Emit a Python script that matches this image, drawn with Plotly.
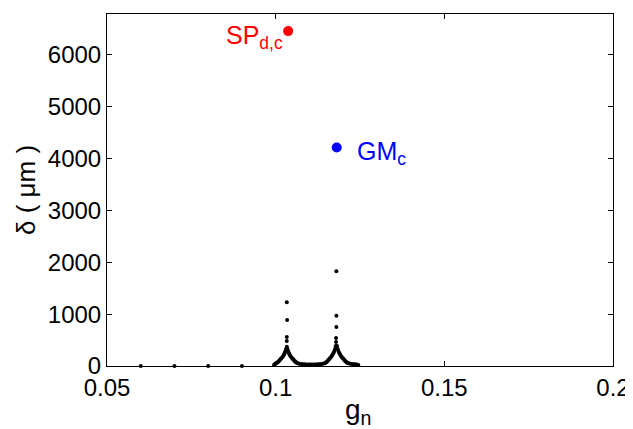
import plotly.graph_objects as go

# Black scattered solution points: g_n and delta (um)
g_points = [0.06, 0.07, 0.08, 0.09,
            0.0995, 0.0998, 0.1000, 0.1003, 0.1006, 0.1008, 0.1010, 0.1013, 0.1015, 0.1017,
            0.1020, 0.1023, 0.1025, 0.1027, 0.1029, 0.1031, 0.1033, 0.1033, 0.1033, 0.1034,
            0.1033, 0.1035, 0.1037, 0.1039, 0.1041, 0.1043, 0.1046, 0.1049, 0.1051, 0.1053,
            0.1056, 0.1058, 0.1060, 0.1063, 0.1066, 0.1070, 0.1075, 0.1080, 0.1085, 0.1090,
            0.1095, 0.1100, 0.1105, 0.1110, 0.1115, 0.1120, 0.1125, 0.1130, 0.1135, 0.1140,
            0.1144, 0.1147, 0.1150, 0.1152, 0.1154, 0.1157, 0.1159, 0.1161, 0.1164, 0.1167,
            0.1169, 0.1172, 0.1174, 0.1176, 0.1178, 0.1179, 0.1179, 0.1180, 0.1180, 0.1180,
            0.1182, 0.1184, 0.1186, 0.1188, 0.1191, 0.1193, 0.1196, 0.1199, 0.1201, 0.1203,
            0.1206, 0.1208, 0.1210, 0.1213, 0.1217, 0.1221, 0.1226, 0.1231, 0.1236, 0.1240,
            0.1245]
delta_points = [0, 0, 0, 0,
                20, 40, 48, 60, 72, 85, 98, 120, 135, 150,
                172, 200, 225, 255, 290, 330, 370, 480, 560, 885,
                1230, 330, 290, 255, 225, 200, 172, 150, 135, 120,
                98, 85, 72, 60, 52, 45, 40, 36, 33, 31,
                30, 29, 29, 29, 30, 31, 33, 36, 40, 45,
                52, 60, 72, 85, 98, 120, 135, 150, 172, 200,
                225, 255, 290, 330, 385, 461, 538, 750, 967, 1830,
                385, 330, 290, 255, 225, 200, 172, 150, 135, 120,
                98, 85, 72, 60, 52, 45, 40, 36, 32, 28,
                20]

# Highlighted points
sp_g, sp_delta = 0.1037, 6460
gm_g, gm_delta = 0.1181, 4215

x_ticks = [0.05, 0.1, 0.15, 0.2]
x_tick_labels = ["0.05", "0.1", "0.15", "0.2"]
y_ticks = [0, 1000, 2000, 3000, 4000, 5000, 6000]

FONT = "Liberation Sans"

fig = go.Figure()
fig.add_trace(go.Scatter(x=g_points, y=delta_points, mode="markers",
                         marker=dict(color="black", size=4), showlegend=False,
                         cliponaxis=False))
fig.add_trace(go.Scatter(x=[sp_g], y=[sp_delta], mode="markers",
                         marker=dict(color="#ff0000", size=10), showlegend=False))
fig.add_trace(go.Scatter(x=[gm_g], y=[gm_delta], mode="markers",
                         marker=dict(color="#0000ff", size=10), showlegend=False))

fig.add_annotation(x=sp_g, y=sp_delta, text="SP<sub>d,c</sub>", showarrow=False,
                   xanchor="right", yanchor="middle", xshift=-3, yshift=-6,
                   font=dict(family=FONT, size=25, color="#ff0000"))
fig.add_annotation(x=gm_g, y=gm_delta, text="GM<sub>c</sub>", showarrow=False,
                   xanchor="left", yanchor="middle", xshift=18, yshift=-6,
                   font=dict(family=FONT, size=25, color="#0000ff"))

# Axis titles placed as annotations
fig.add_annotation(xref="paper", yref="paper", x=0.497, y=-0.13, text="g<sub>n</sub>",
                   showarrow=False, xanchor="center", yanchor="middle",
                   font=dict(family=FONT, size=28, color="black"))
fig.add_annotation(xref="paper", yref="paper", x=-0.16, y=0.5, text="δ ( μm )",
                   showarrow=False, xanchor="center", yanchor="middle", textangle=-90,
                   font=dict(family=FONT, size=26, color="black"))

axis_common = dict(showline=True, linecolor="black", linewidth=1, mirror="ticks",
                   ticks="inside", ticklen=5, tickcolor="black", showgrid=False,
                   zeroline=False, automargin=False,
                   tickfont=dict(family=FONT, size=24, color="black"))

fig.update_xaxes(range=[0.05, 0.2], tickvals=x_ticks, ticktext=x_tick_labels, **axis_common)
fig.update_yaxes(range=[0, 6790], tickvals=y_ticks, **axis_common)

# The page body adds an 8px offset, so the figure is sized to fit the window
fig.update_layout(width=625, height=421, paper_bgcolor="white", plot_bgcolor="white",
                  margin=dict(l=99, r=20, t=6, b=63, autoexpand=False))

fig.write_html("out.html")
